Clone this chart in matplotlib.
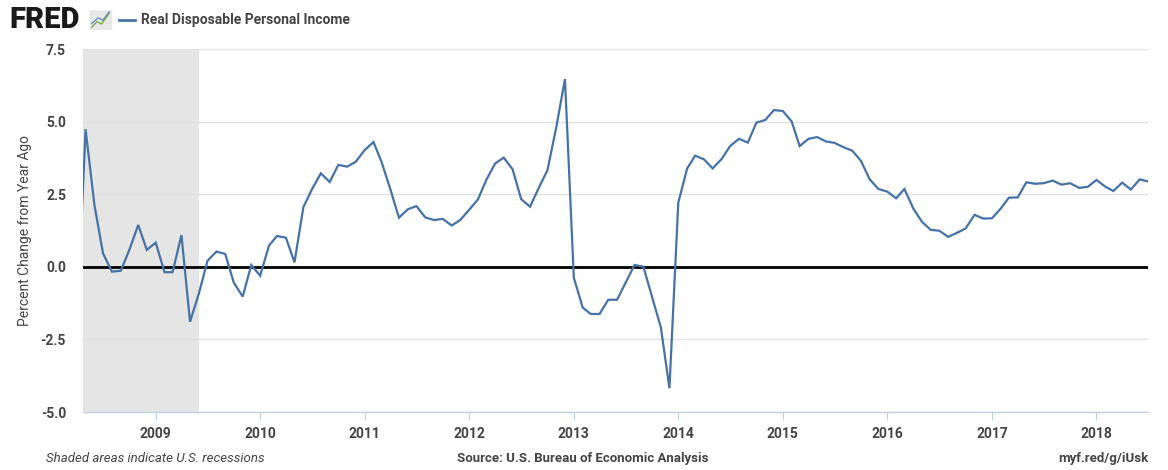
import matplotlib.pyplot as plt
import matplotlib.dates as mdates
import pandas as pd
from matplotlib.patches import FancyBboxPatch

plt.rcParams["font.family"] = ["Roboto", "DejaVu Sans"]

# monthly, Apr 2008 .. Jul 2018 (percent change from year ago)
first_month = "2008-04-01"
last_month = "2018-07-01"
rdpi_2008 = [-2.0, 4.75, 2.14, 0.47, -0.16, -0.13, 0.59, 1.45, 0.59]
rdpi_2009 = [0.84, -0.18, -0.18, 1.10, -1.89, -0.91, 0.21, 0.53, 0.45, -0.54, -1.02, 0.07]
rdpi_2010 = [-0.30, 0.74, 1.07, 1.01, 0.16, 2.06, 2.68, 3.23, 2.93, 3.52, 3.46, 3.63]
rdpi_2011 = [4.03, 4.31, 3.63, 2.68, 1.70, 1.99, 2.10, 1.71, 1.62, 1.66, 1.43, 1.62]
rdpi_2012 = [1.97, 2.33, 3.00, 3.57, 3.77, 3.37, 2.34, 2.08, 2.74, 3.34, 4.84, 6.48]
rdpi_2013 = [-0.37, -1.40, -1.62, -1.62, -1.13, -1.13, -0.54, 0.07, 0.01, -1.02, -2.08, -4.18]
rdpi_2014 = [2.22, 3.40, 3.84, 3.71, 3.40, 3.72, 4.17, 4.42, 4.29, 4.98, 5.07, 5.41]
rdpi_2015 = [5.38, 5.02, 4.17, 4.42, 4.48, 4.33, 4.28, 4.13, 4.01, 3.66, 3.02, 2.69]
rdpi_2016 = [2.60, 2.37, 2.69, 2.02, 1.56, 1.28, 1.25, 1.04, 1.18, 1.33, 1.80, 1.67]
rdpi_2017 = [1.68, 2.02, 2.39, 2.40, 2.92, 2.87, 2.89, 2.98, 2.84, 2.89, 2.73, 2.76]
rdpi_2018 = [3.00, 2.77, 2.62, 2.91, 2.67, 3.02, 2.95]

recession_start = "2007-12-01"
recession_end = "2009-06-01"
view_start = "2008-04-21"
y_ticks = [-5.0, -2.5, 0.0, 2.5, 5.0, 7.5]
x_years = list(range(2009, 2019))

months = pd.date_range(first_month, last_month, freq="MS")
values = (rdpi_2008 + rdpi_2009 + rdpi_2010 + rdpi_2011 + rdpi_2012 + rdpi_2013
          + rdpi_2014 + rdpi_2015 + rdpi_2016 + rdpi_2017 + rdpi_2018)

LINE = "#4572a7"
TEXT = "#444444"
AXIS = "#c0d0e0"

fig = plt.figure(figsize=(11.68, 4.70), dpi=100)
ax = fig.add_axes([0.0708, 0.1234, 0.9123, 0.7713])

ax.axvspan(pd.Timestamp(recession_start), pd.Timestamp(recession_end), color="#e5e5e5", lw=0, zorder=0)
ax.axhline(0, color="black", lw=2.0, zorder=2)
ax.plot(months, values, color=LINE, lw=1.6, zorder=3, solid_joinstyle="miter")

ax.set_xlim(pd.Timestamp(view_start), pd.Timestamp(last_month))
ax.set_ylim(-5, 7.5)
ax.set_yticks(y_ticks)
ax.set_yticklabels([f"{t:.1f}" for t in y_ticks])
ax.set_xticks([pd.Timestamp(f"{y}-01-01") for y in x_years])
ax.xaxis.set_major_formatter(mdates.DateFormatter("%Y"))

ax.grid(axis="y", color="#e1e1e1", lw=1.0, zorder=1)
ax.set_axisbelow(True)
for side in ["top", "right", "left"]:
    ax.spines[side].set_visible(False)
ax.spines["bottom"].set_color(AXIS)
ax.spines["bottom"].set_linewidth(1.0)
ax.tick_params(axis="y", length=0, pad=12, labelsize=10, labelcolor=TEXT)
ax.tick_params(axis="x", length=6, color=AXIS, pad=5, labelsize=10, labelcolor=TEXT)
for lab in ax.get_xticklabels() + ax.get_yticklabels():
    lab.set_fontweight("bold")
ax.set_ylabel("Percent Change from Year Ago", fontsize=10, color=TEXT, labelpad=6)

# header: FRED logo + legend
fig.text(0.008, 0.957, "FRED", fontsize=21, fontweight="black", color="#1a1a1a", va="center", ha="left")
fig.patches.append(FancyBboxPatch((0.0775, 0.937), 0.0175, 0.04, boxstyle="round,pad=0.001",
                                  transform=fig.transFigure, facecolor="#e8e8e8", edgecolor="none"))
fig.lines.append(plt.Line2D([0.0785, 0.083, 0.087, 0.0935], [0.942, 0.954, 0.949, 0.972],
                            transform=fig.transFigure, color="#7aa84a", lw=1.0))
fig.lines.append(plt.Line2D([0.0785, 0.084, 0.088, 0.0935], [0.950, 0.962, 0.957, 0.975],
                            transform=fig.transFigure, color="#6a8fc0", lw=1.0))
fig.lines.append(plt.Line2D([0.102, 0.116], [0.957, 0.957], transform=fig.transFigure, color=LINE, lw=2))
fig.text(0.1205, 0.957, "Real Disposable Personal Income", fontsize=10, fontweight="bold",
         color=TEXT, va="center", ha="left")

# footer
fig.text(0.039, 0.025, "Shaded areas indicate U.S. recessions", fontsize=9.5, style="italic",
         color=TEXT, va="center", ha="left")
fig.text(0.499, 0.025, "Source: U.S. Bureau of Economic Analysis", fontsize=9.5, fontweight="bold",
         color=TEXT, va="center", ha="center")
fig.text(0.983, 0.025, "myf.red/g/iUsk", fontsize=9.5, fontweight="bold",
         color=TEXT, va="center", ha="right")

fig.savefig("out.png", dpi=100)
